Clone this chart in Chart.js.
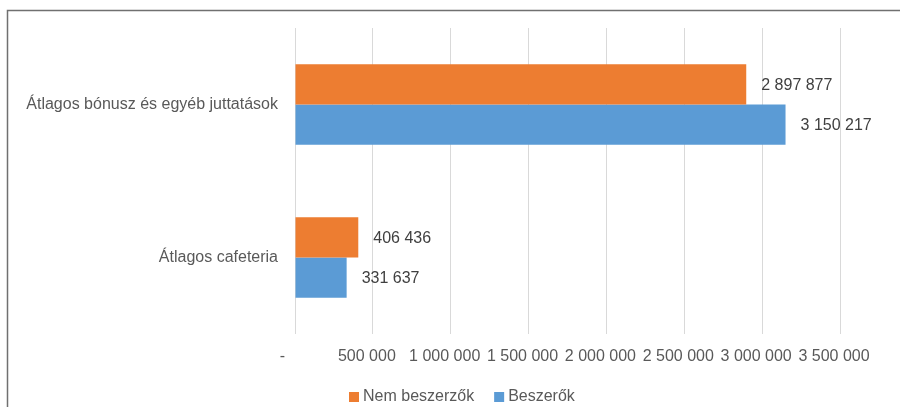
<!DOCTYPE html>
<html>
<head>
<meta charset="utf-8">
<script src="https://cdn.jsdelivr.net/npm/chart.js@4.4.1/dist/chart.umd.min.js"></script>
<style>
  html, body { margin: 0; padding: 0; background: #fff; }
  #wrap { width: 900px; height: 407px; position: relative; }
</style>
</head>
<body>
<div id="wrap"><canvas id="barChart" width="900" height="407"></canvas></div>
<script>
// Data
const categories = ['Átlagos bónusz és egyéb juttatások', 'Átlagos cafeteria'];
const nemBeszerzok = [2897877, 406436];
const beszerzok = [3150217, 331637];
const seriesNames = ['Nem beszerzők', 'Beszerők'];
const seriesColors = ['#ED7D31', '#5B9BD5'];

const fmt = v => Math.round(v).toString().replace(/\B(?=(\d{3})+(?!\d))/g, ' ');
const font = "'Liberation Sans', Arial, sans-serif";

// frame around the chart (only top/left edges visible in the picture)
const framePlugin = {
  id: 'frame',
  beforeDraw(chart) {
    const c = chart.ctx;
    c.save();
    c.fillStyle = '#fff';
    c.fillRect(0, 0, chart.width, chart.height);
    c.strokeStyle = '#707070';
    c.lineWidth = 1.5;
    c.strokeRect(7.5, 10.5, 1200, 1200);
    c.restore();
  }
};

// value labels at the end of each bar
const valueLabels = {
  id: 'valueLabels',
  afterDatasetsDraw(chart) {
    const c = chart.ctx;
    c.save();
    c.font = '16px ' + font;
    c.fillStyle = '#404040';
    c.textBaseline = 'middle';
    chart.data.datasets.forEach((ds, i) => {
      chart.getDatasetMeta(i).data.forEach((bar, j) => {
        c.fillText(fmt(ds.data[j]), bar.x + 15, bar.y + 1);
      });
    });
    c.restore();
  }
};

// legend below the axis, like the Excel one
const bottomLegend = {
  id: 'bottomLegend',
  afterDraw(chart) {
    const c = chart.ctx;
    c.save();
    c.font = '16px ' + font;
    c.textBaseline = 'middle';
    let x = 349;
    const y = 397;
    chart.data.datasets.forEach(ds => {
      c.fillStyle = ds.backgroundColor;
      c.fillRect(x, y - 5, 10, 10);
      c.fillStyle = '#595959';
      c.fillText(ds.label, x + 14, y);
      x += 14 + c.measureText(ds.label).width + 20;
    });
    c.restore();
  }
};

const ctx = document.getElementById('barChart').getContext('2d');

new Chart(ctx, {
  type: 'bar',
  data: {
    labels: categories,
    datasets: [
      {
        label: seriesNames[0],
        data: nemBeszerzok,
        backgroundColor: seriesColors[0],
        categoryPercentage: 0.525,
        barPercentage: 1,
      },
      {
        label: seriesNames[1],
        data: beszerzok,
        backgroundColor: seriesColors[1],
        categoryPercentage: 0.525,
        barPercentage: 1,
      },
    ],
  },
  options: {
    indexAxis: 'y',
    responsive: false,
    animation: false,
    layout: { padding: { top: 28, right: 60, left: 0, bottom: 0 } },
    plugins: {
      legend: { display: false },
      tooltip: { enabled: false },
    },
    scales: {
      x: {
        min: 0,
        max: 3500000,
        afterFit(scale) { scale.height = 73; },
        ticks: {
          stepSize: 500000,
          font: { family: font, size: 16 },
          color: '#595959',
          padding: 13,
          labelOffset: -6,
          callback: v => (v === 0 ? '-   ' : fmt(v)),
          maxRotation: 0,
          autoSkip: false,
        },
        grid: { color: '#d9d9d9', drawTicks: false },
        border: { display: false },
      },
      y: {
        afterFit(scale) { scale.width = 295; },
        ticks: {
          font: { family: font, size: 16 },
          color: '#595959',
          padding: 17,
        },
        grid: { display: false, drawTicks: false },
        border: { display: false },
      },
    },
  },
  plugins: [framePlugin, valueLabels, bottomLegend],
});
</script>
</body>
</html>
